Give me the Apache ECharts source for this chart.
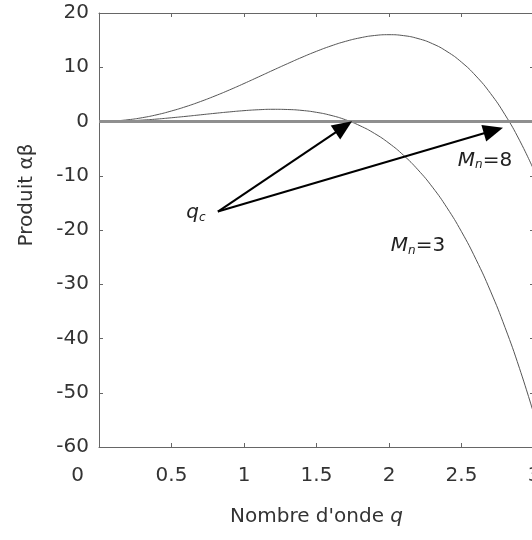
<!DOCTYPE html>
<html>
<head>
<meta charset="utf-8">
<script src="https://cdn.jsdelivr.net/npm/echarts@6/dist/echarts.min.js"></script>
<style>
  html, body { margin: 0; padding: 0; background: #fff; }
  #chart { width: 532px; height: 540px; }
</style>
</head>
<body>
<div id="chart"></div>
<script>
// wave number q
var qValues = [0.1, 0.2, 0.3, 0.4, 0.5, 0.6, 0.7, 0.8, 0.9, 1.0,
               1.1, 1.2, 1.3, 1.4, 1.5, 1.6, 1.7, 1.8, 1.9, 2.0,
               2.1, 2.2, 2.3, 2.4, 2.5, 2.6, 2.7, 2.8, 2.9, 3.0];
// product alpha*beta, Mn = 8
var mn8Values = [0.08, 0.32, 0.71, 1.25, 1.94, 2.75, 3.68, 4.71, 5.82, 7.00,
                 8.22, 9.45, 10.66, 11.84, 12.94, 13.93, 14.77, 15.42, 15.85, 16.00,
                 15.83, 15.29, 14.34, 12.90, 10.94, 8.38, 5.18, 1.25, -3.45, -9.00];
// product alpha*beta, Mn = 3
var mn3Values = [0.03, 0.12, 0.26, 0.45, 0.69, 0.95, 1.23, 1.51, 1.77, 2.00,
                 2.17, 2.25, 2.21, 2.04, 1.69, 1.13, 0.32, -0.78, -2.20, -4.00,
                 -6.22, -8.91, -12.11, -15.90, -20.31, -25.42, -31.27, -37.95, -45.50, -54.00];

function pairs(xs, ys) {
    var out = [];
    for (var i = 0; i < xs.length; i++) out.push([xs[i], ys[i]]);
    return out;
}

var chart = echarts.init(document.getElementById('chart'), null, { renderer: 'canvas' });

var font = 'DejaVu Sans';
var axisColor = '#666';
var curveColor = '#555';
var textColor = '#333';

var option = {
    animation: false,
    backgroundColor: '#fff',
    grid: { left: 99, top: 13, right: -2, bottom: 93, containLabel: false, outerBoundsMode: 'none' },
    xAxis: [{
        type: 'value',
        min: 0, max: 3, interval: 0.5,
        name: 'Nombre d\'onde {i|q}',
        nameLocation: 'middle',
        nameGap: 60,
        nameTextStyle: {
            fontFamily: font, fontSize: 20, color: textColor,
            rich: { i: { fontFamily: font, fontSize: 20, fontStyle: 'italic', color: textColor } }
        },
        axisLine: { show: true, onZero: false, lineStyle: { color: axisColor, width: 1 } },
        axisTick: { show: true, inside: true, length: 4, lineStyle: { color: axisColor } },
        splitLine: { show: false },
        axisLabel: {
            margin: 19,
            fontFamily: font, fontSize: 20, color: textColor,
            formatter: function (v) { return v === 0 ? '{z|0}' : String(v); },
            rich: { z: { fontFamily: font, fontSize: 20, color: textColor, padding: [0, 43, 0, 0] } }
        }
    }, {
        type: 'value', position: 'top',
        min: 0, max: 3, interval: 0.5,
        axisLine: { show: true, onZero: false, lineStyle: { color: axisColor, width: 1 } },
        axisTick: { show: true, inside: true, length: 4, lineStyle: { color: axisColor } },
        axisLabel: { show: false },
        splitLine: { show: false }
    }],
    yAxis: [{
        type: 'value',
        min: -60, max: 20, interval: 10,
        name: 'Produit αβ',
        nameLocation: 'middle',
        nameGap: 62,
        nameTextStyle: { fontFamily: font, fontSize: 20, color: textColor, padding: [0, 0, 0, 70] },
        axisLine: { show: true, onZero: false, lineStyle: { color: axisColor, width: 1 } },
        axisTick: { show: true, inside: true, length: 4, lineStyle: { color: axisColor } },
        splitLine: { show: false },
        axisLabel: { margin: 10, fontFamily: font, fontSize: 20, color: textColor }
    }, {
        type: 'value', position: 'right',
        min: -60, max: 20, interval: 10,
        axisLine: { show: true, onZero: false, lineStyle: { color: axisColor, width: 1 } },
        axisTick: { show: true, inside: true, length: 4, lineStyle: { color: axisColor } },
        axisLabel: { show: false },
        splitLine: { show: false }
    }],
    series: [
        {
            name: 'Mn=8',
            type: 'line',
            smooth: true,
            symbol: 'none',
            data: pairs(qValues, mn8Values),
            lineStyle: { color: curveColor, width: 1 },
            z: 2
        },
        {
            name: 'Mn=3',
            type: 'line',
            smooth: true,
            symbol: 'none',
            data: pairs(qValues, mn3Values),
            lineStyle: { color: curveColor, width: 1 },
            z: 2,
            // zero line
            markLine: {
                silent: true,
                symbol: 'none',
                label: { show: false },
                lineStyle: { color: '#8f8f8f', width: 3, type: 'solid' },
                data: [{ yAxis: 0 }]
            }
        },
        {
            // arrows and annotations
            type: 'line',
            data: [],
            z: 5,
            markLine: {
                silent: true,
                symbol: ['none', 'triangle'],
                symbolSize: [17, 20],
                label: { show: false },
                lineStyle: { color: '#000', width: 2, type: 'solid' },
                data: [
                    [{ coord: [0.82, -16.6] }, { coord: [1.688, -1.0] }],
                    [{ coord: [0.82, -16.6] }, { coord: [2.72, -1.65] }]
                ]
            },
            markPoint: {
                silent: true,
                symbol: 'circle',
                symbolSize: 0,
                label: {
                    show: true,
                    position: 'inside',
                    color: '#222',
                    fontFamily: font,
                    fontSize: 20,
                    formatter: function (p) { return p.name; },
                    rich: {
                        it: { fontFamily: font, fontSize: 20, fontStyle: 'italic', color: '#222' },
                        sub: { fontFamily: font, fontSize: 12, fontStyle: 'italic', color: '#222', padding: [9, 0, 0, 0] },
                        n: { fontFamily: font, fontSize: 20, color: '#222' }
                    }
                },
                data: [
                    { name: '{it|q}{sub|c}', coord: [0.669, -16.9] },
                    { name: '{it|M}{sub|n}{n|=8}', coord: [2.662, -7.2] },
                    { name: '{it|M}{sub|n}{n|=3}', coord: [2.2, -23.0] }
                ]
            }
        }
    ]
};

chart.setOption(option);
</script>
</body>
</html>
